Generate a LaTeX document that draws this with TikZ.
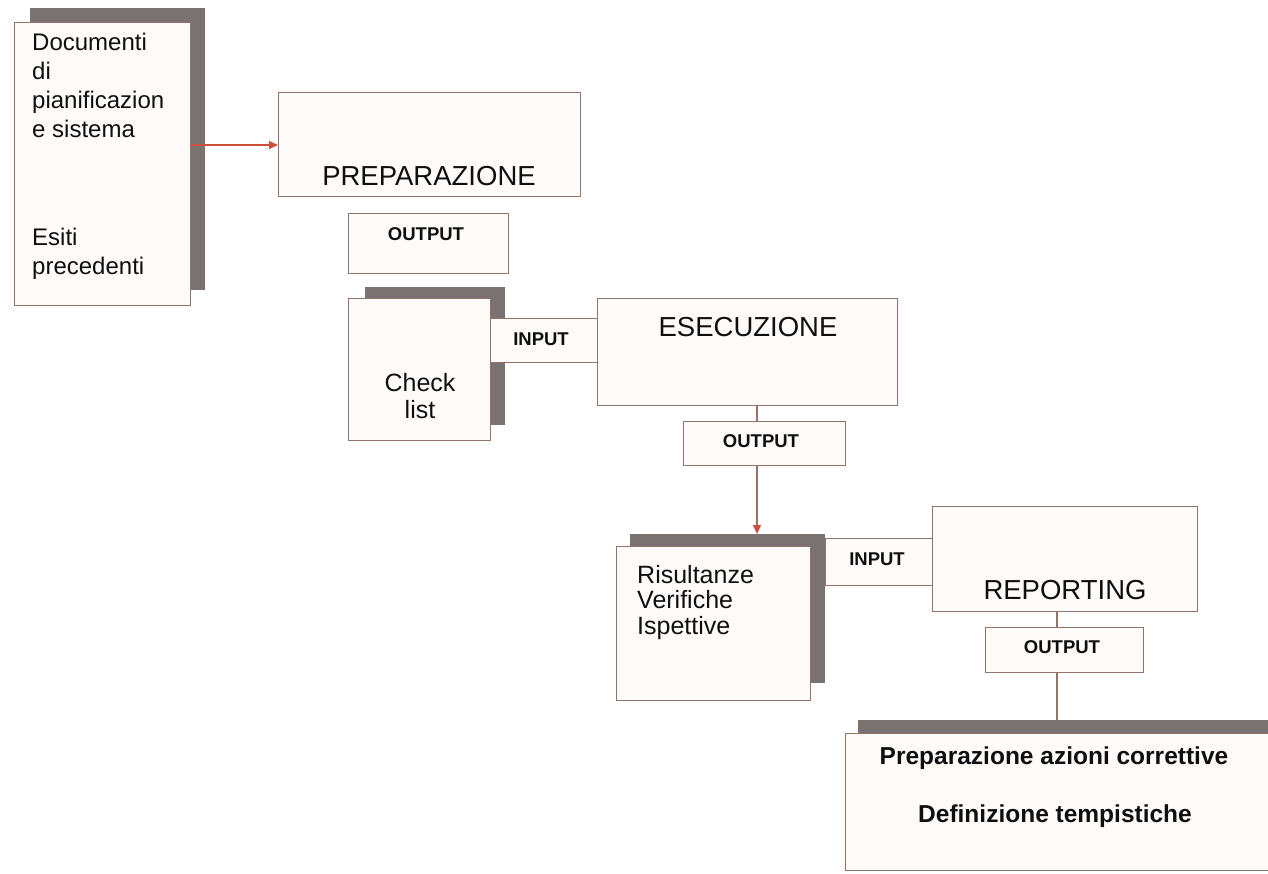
\documentclass[tikz,border=0pt]{standalone}
\usepackage{fontspec}
\setmainfont{Liberation Sans}
\usetikzlibrary{arrows.meta}
\definecolor{edgec}{RGB}{150,115,105}
\definecolor{fillc}{RGB}{255,251,249}
\definecolor{shadowc}{RGB}{122,114,112}
\definecolor{arrowc}{RGB}{205,80,60}
\definecolor{textc}{RGB}{15,15,15}
\tikzset{
  box/.style={draw=edgec, line width=1.3pt, fill=fillc, rectangle, inner sep=0pt, anchor=north west},
  shade/.style={fill=shadowc, draw=none, rectangle, inner sep=0pt, anchor=north west},
  bigtxt/.style={font=\fontsize{27.5}{30}\selectfont, text=textc, inner sep=0pt},
  smalltxt/.style={font=\bfseries\fontsize{18.5}{20}\selectfont, text=textc, inner sep=0pt},
  midtxt/.style={font=\fontsize{24}{29}\selectfont, text=textc, inner sep=0pt, align=left},
  lowtxt/.style={font=\bfseries\fontsize{24.5}{27}\selectfont, text=textc, inner sep=0pt},
  conn/.style={draw=edgec, line width=1.3pt},
  arr/.style={draw=arrowc, line width=1.3pt, -{Triangle[length=9pt,width=8pt,color=arrowc]}},
  arrb/.style={draw=edgec, line width=1.3pt, -{Triangle[length=9pt,width=8pt,color=arrowc]}}
}
\begin{document}
\begin{tikzpicture}[x=1pt,y=-1pt]
\useasboundingbox[fill=white] (0,0) rectangle (1268,874);
% Documenti box
\node[shade, minimum width=175pt, minimum height=282pt] (docsh) at (30,8) {};
\node[box, minimum width=176pt, minimum height=283pt] (doc) at (14,22) {};
\node[midtxt, anchor=north west] (doctxt) at (32,33) {Documenti\\di\\pianificazion\\e sistema};
\node[midtxt, anchor=north west] (esiti) at (32,228) {Esiti\\precedenti};
% Preparazione
\node[box, minimum width=302pt, minimum height=104pt] (prep) at (278,92) {};
\node[bigtxt] (preptxt) at (429,176) {PREPARAZIONE};
\coordinate (docout) at (doc.east |- 0,145);
\draw[arr] (docout) -- (docout -| prep.west);
% Output 1
\node[box, minimum width=160pt, minimum height=60pt] (out1) at (348,213) {};
\node[smalltxt] (out1txt) at (426,234) {OUTPUT};
% Check list
\node[shade, minimum width=140pt, minimum height=138pt] (chksh) at (365,287) {};
\node[box, minimum width=142pt, minimum height=142pt] (chk) at (348,298) {};
\node[midtxt, align=center, font=\fontsize{25}{27}\selectfont] (chktxt) at (420,396) {Check\\list};
% Input 1
\node[box, minimum width=107pt, minimum height=44pt] (in1) at (490,318) {};
\node[smalltxt] (in1txt) at (541,339) {INPUT};
% Esecuzione
\node[box, minimum width=300pt, minimum height=107pt] (esec) at (597,298) {};
\node[bigtxt] (esectxt) at (748,327) {ESECUZIONE};
% Output 2
\node[box, minimum width=162pt, minimum height=44pt] (out2) at (683,421) {};
\node[smalltxt] (out2txt) at (761,441) {OUTPUT};
\coordinate (e2) at (757,405);
\draw[conn] (e2) -- (e2 |- out2.north);
% Risultanze
\node[shade, minimum width=195pt, minimum height=149pt] (rissh) at (630,534) {};
\node[box, minimum width=194pt, minimum height=154pt] (ris) at (616,546) {};
\node[midtxt, anchor=north west, font=\fontsize{25}{25.5}\selectfont] (ristxt) at (637,565) {Risultanze\\Verifiche\\Ispettive};
\coordinate (o2b) at (757,465);
\draw[arrb] (o2b |- out2.south) -- (o2b |- rissh.north);
% Input 2
\node[box, minimum width=107pt, minimum height=47pt] (in2) at (825,538) {};
\node[smalltxt] (in2txt) at (877,559) {INPUT};
% Reporting
\node[box, minimum width=265pt, minimum height=105pt] (rep) at (932,506) {};
\node[bigtxt] (reptxt) at (1065,590) {REPORTING};
% Output 3
\node[box, minimum width=158pt, minimum height=45pt] (out3) at (985,627) {};
\node[smalltxt] (out3txt) at (1062,647) {OUTPUT};
\coordinate (r3) at (1057,611);
\draw[conn] (r3) -- (r3 |- out3.north);
% Final box
\node[shade, minimum width=440pt, minimum height=20pt] (finsh) at (858,720) {};
\node[box, minimum width=440pt, minimum height=137pt] (fin) at (845,733) {};
\node[lowtxt] (fin1) at (1054,758) {Preparazione azioni correttive};
\node[lowtxt] (fin2) at (1055,816) {Definizione tempistiche};
\draw[conn] (r3 |- out3.south) -- (r3 |- finsh.north);
\end{tikzpicture}
\end{document}
